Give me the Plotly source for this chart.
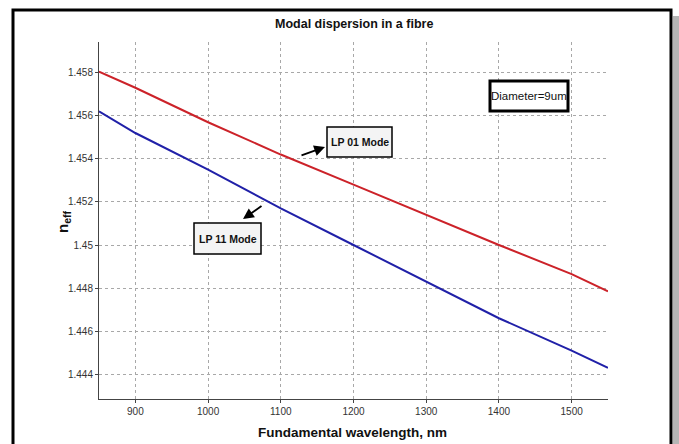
import plotly.graph_objects as go

# Effective index of the two lowest-order modes vs. wavelength
wavelength_nm = [850, 900, 1000, 1100, 1200, 1300, 1400, 1500, 1550]
n_eff_lp01 = [1.45805, 1.4573, 1.4557, 1.4542, 1.4528, 1.4514, 1.4500, 1.44865, 1.44785]
n_eff_lp11 = [1.4562, 1.4552, 1.4535, 1.4517, 1.4500, 1.4483, 1.4466, 1.4451, 1.4443]

x_ticks = [900, 1000, 1100, 1200, 1300, 1400, 1500]
y_ticks = [1.444, 1.446, 1.448, 1.45, 1.452, 1.454, 1.456, 1.458]
y_tick_text = ["1.444", "1.446", "1.448", "1.45", "1.452", "1.454", "1.456", "1.458"]

W, H = 679, 444
L, R, T, B = 99, 608, 42, 399
FONT = "Liberation Sans, Arial, sans-serif"


def px(x):
    return (x - L) / (R - L)


def py(y):
    return (B - y) / (B - T)


def label(text, x, y, size, **kw):
    return dict(text=text, xref="paper", yref="paper", x=px(x), y=py(y),
                xanchor="center", yanchor="middle", showarrow=False,
                font=dict(family=FONT, size=size, color="#111"), **kw)


fig = go.Figure()
fig.add_trace(go.Scatter(x=wavelength_nm, y=n_eff_lp01, mode="lines",
                         line=dict(color="#cc2229", width=2), name="LP 01"))
fig.add_trace(go.Scatter(x=wavelength_nm, y=n_eff_lp11, mode="lines",
                         line=dict(color="#2020a8", width=2), name="LP 11"))

axis_common = dict(
    showline=True, linecolor="#444", linewidth=1, mirror=False,
    showgrid=True, gridcolor="#a8a8a8", griddash="dot", gridwidth=1,
    ticks="outside", ticklen=3, tickcolor="#444",
    tickfont=dict(family=FONT, size=10, color="#333"),
    zeroline=False,
)
fig.update_xaxes(range=[850, 1550], tickvals=x_ticks, **axis_common)
fig.update_yaxes(range=[1.44285, 1.459425], tickvals=y_ticks, ticktext=y_tick_text, **axis_common)

shapes = [
    # drop shadow and outer frame
    dict(type="rect", xref="paper", yref="paper", x0=px(673), x1=px(679), y0=py(16), y1=py(450),
         fillcolor="#b5b5b5", line=dict(width=0), layer="below"),
    dict(type="rect", xref="paper", yref="paper", x0=px(13), x1=px(671), y0=py(10), y1=py(452),
         line=dict(color="black", width=3)),
    # label boxes
    dict(type="rect", xref="paper", yref="paper", x0=px(327), x1=px(392), y0=py(127), y1=py(157),
         fillcolor="#f4f4f4", line=dict(color="black", width=1.5)),
    dict(type="rect", xref="paper", yref="paper", x0=px(194), x1=px(261), y0=py(223), y1=py(254),
         fillcolor="#f4f4f4", line=dict(color="black", width=1.5)),
    dict(type="rect", xref="paper", yref="paper", x0=px(490), x1=px(568), y0=py(81), y1=py(111),
         fillcolor="white", line=dict(color="black", width=3)),
]

annotations = [
    label("<b>Modal dispersion in a fibre</b>", 354, 24, 12.5),
    label("<b>Fundamental wavelength, nm</b>", 352, 432, 13.5),
    label("<b>n<sub>eff</sub></b>", 63, 222, 15, textangle=-90),
    label("<b>LP 01 Mode</b>", 359.5, 142, 10.5),
    label("<b>LP 11 Mode</b>", 227.5, 238.5, 10.5),
    label("Diameter=9um", 529, 96, 11.5),
    # pointer arrows
    dict(text="", xref="paper", yref="paper", x=px(325), y=py(147), ax=-25, ay=9,
         showarrow=True, arrowhead=2, arrowsize=1.2, arrowwidth=1.8, arrowcolor="black"),
    dict(text="", xref="paper", yref="paper", x=px(243), y=py(219), ax=20, ay=-14,
         showarrow=True, arrowhead=2, arrowsize=1.2, arrowwidth=1.8, arrowcolor="black"),
]

fig.update_layout(
    width=W, height=H,
    margin=dict(l=L, r=W - R, t=T, b=H - B),
    paper_bgcolor="white", plot_bgcolor="white",
    showlegend=False,
    shapes=shapes, annotations=annotations,
)

fig.write_html("out.html")
